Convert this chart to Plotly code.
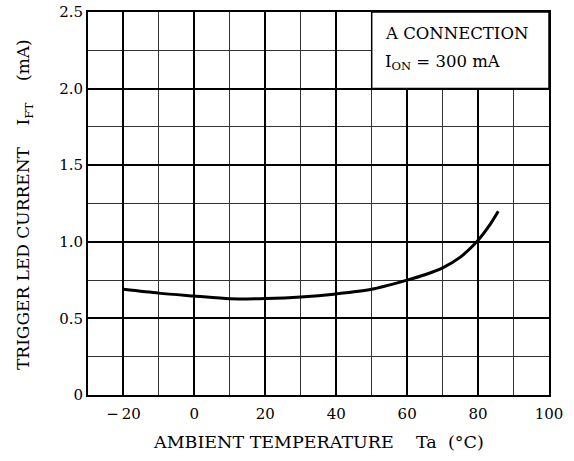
import plotly.graph_objects as go

temp = [-20, -10, 0, 10, 20, 30, 40, 50, 60, 65, 70, 75, 80, 83, 85.7]
current = [0.69, 0.665, 0.646, 0.628, 0.63, 0.64, 0.66, 0.69, 0.75, 0.785, 0.83, 0.90, 1.01, 1.10, 1.20]

x_tickvals = [-20, 0, 20, 40, 60, 80, 100]
x_ticktext = ["\u2212\u200920", "0", "20", "40", "60", "80", "100"]
y_tickvals = [0, 0.5, 1.0, 1.5, 2.0, 2.5]
y_ticktext = ["0", "0.5", "1.0", "1.5", "2.0", "2.5"]

FONT = "DejaVu Serif"
SP4 = "\u00a0\u00a0\u00a0\u00a0"
SP2 = "\u00a0\u00a0"

fig = go.Figure()
fig.add_trace(go.Scatter(x=temp, y=current, mode="lines",
                         line=dict(color="black", width=3, shape="spline", smoothing=0.8),
                         hoverinfo="skip", showlegend=False))

fig.update_layout(
    width=574, height=461,
    margin=dict(l=88, r=25, t=12, b=66),
    paper_bgcolor="white", plot_bgcolor="white",
    font=dict(family=FONT, size=13, color="black"),
    showlegend=False,
)
fig.update_xaxes(
    range=[-30, 100], tickvals=x_tickvals, ticktext=x_ticktext,
    showgrid=True, gridcolor="black", gridwidth=1.5,
    minor=dict(dtick=10, tick0=0, showgrid=True, gridcolor="#333333", gridwidth=1),
    showline=True, linecolor="black", linewidth=2, mirror=True,
    ticks="", zeroline=False, ticklabelstandoff=4, automargin=False,
    tickfont=dict(family=FONT, size=15),
)
fig.update_yaxes(
    range=[0, 2.5], tickvals=y_tickvals, ticktext=y_ticktext,
    showgrid=True, gridcolor="black", gridwidth=1.5,
    minor=dict(dtick=0.25, tick0=0, showgrid=True, gridcolor="#333333", gridwidth=1),
    showline=True, linecolor="black", linewidth=2, mirror=True,
    ticks="", zeroline=False, automargin=False,
    tickfont=dict(family=FONT, size=15),
)

fig.add_shape(type="rect", xref="x", yref="y", x0=50, x1=100, y0=2.0, y1=2.5,
              fillcolor="white", line=dict(color="black", width=1.5), layer="above")

fig.add_annotation(xref="x", yref="y", x=53.3, y=2.36, text="A CONNECTION",
                   showarrow=False, xanchor="left", yanchor="middle",
                   font=dict(family=FONT, size=16.5))
fig.add_annotation(xref="x", yref="y", x=53.3, y=2.17,
                   text="I<sub>ON</sub> = 300 mA",
                   showarrow=False, xanchor="left", yanchor="middle",
                   font=dict(family=FONT, size=16.5))

fig.add_annotation(xref="paper", yref="paper", x=(24 - 88) / 461, y=(395 - 205) / 383,
                   text="TRIGGER LED CURRENT" + SP4 + "I<sub>FT</sub>" + SP4 + "(mA)",
                   textangle=-90, showarrow=False, xanchor="center", yanchor="middle",
                   font=dict(family=FONT, size=17))
fig.add_annotation(xref="paper", yref="paper", x=(318 - 88) / 461, y=(395 - 442) / 383,
                   text="AMBIENT TEMPERATURE" + SP4 + "Ta" + SP2 + "(\u00b0C)",
                   showarrow=False, xanchor="center", yanchor="middle",
                   font=dict(family=FONT, size=17.5))

fig.write_html("out.html")
